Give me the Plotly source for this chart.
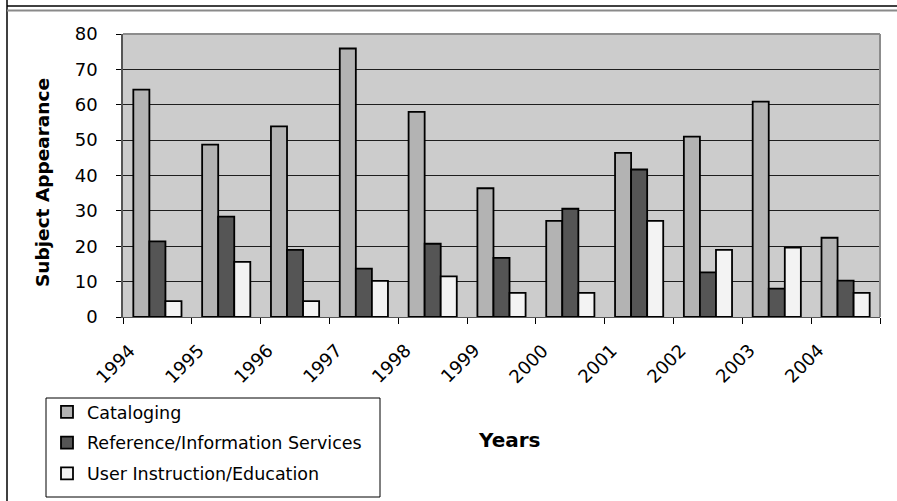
import plotly.graph_objects as go

years = ["1994", "1995", "1996", "1997", "1998", "1999", "2000", "2001", "2002", "2003", "2004"]
cataloging = [64.3, 48.7, 53.9, 75.9, 58.0, 36.4, 27.2, 46.4, 51.0, 60.9, 22.4]
reference = [21.4, 28.4, 19.0, 13.7, 20.7, 16.7, 30.6, 41.7, 12.6, 8.0, 10.3]
instruction = [4.5, 15.6, 4.5, 10.2, 11.5, 6.8, 6.8, 27.2, 19.0, 19.6, 6.8]
series_names = ["Cataloging", "Reference/Information Services", "User Instruction/Education"]
series_colors = ["#b3b3b3", "#555555", "#f3f3f3"]

W, H = 897, 501
L, R, T, B = 123, 17, 34, 184
PW, PH = W - L - R, H - T - B
FONT = "DejaVu Sans"


def px(x):
    return (x - L) / PW


def py(y):
    return (H - B - y) / PH


fig = go.Figure()
for name, vals, col in zip(series_names, [cataloging, reference, instruction], series_colors):
    fig.add_trace(go.Bar(
        x=years, y=vals, name=name, legendgroup=name,
        marker=dict(color=col, line=dict(color="#000000", width=1.8)),
    ))

annotations = []
for i, yr in enumerate(years):
    annotations.append(dict(
        x=i, y=0, xref="x", yref="y", text=yr, showarrow=False,
        textangle=-45, xanchor="center", yanchor="middle",
        xshift=-42, yshift=-46, font=dict(family=FONT, size=18, color="#000"),
    ))
annotations.append(dict(
    x=px(42), y=py(183), xref="paper", yref="paper", text="<b>Subject Appearance</b>",
    showarrow=False, textangle=-90, xanchor="center", yanchor="middle",
    font=dict(family=FONT, size=18.5, color="#000"),
))
annotations.append(dict(
    x=px(509), y=py(440), xref="paper", yref="paper", text="<b>Years</b>",
    showarrow=False, xanchor="center", yanchor="middle",
    font=dict(family=FONT, size=20, color="#000"),
))

shapes = [
    dict(type="line", xref="paper", yref="paper", x0=0, x1=1, y0=1, y1=1,
         line=dict(color="#8c8c8c", width=2), layer="above"),
    dict(type="line", xref="paper", yref="paper", x0=1, x1=1, y0=0, y1=1,
         line=dict(color="#8c8c8c", width=2), layer="above"),
    dict(type="line", xref="paper", yref="paper", x0=px(7), x1=px(7), y0=py(0), y1=py(501),
         line=dict(color="#000", width=1.5)),
    dict(type="line", xref="paper", yref="paper", x0=px(7), x1=px(897), y0=py(6), y1=py(6),
         line=dict(color="#000", width=1.5)),
    dict(type="line", xref="paper", yref="paper", x0=px(7), x1=px(897), y0=py(10.5), y1=py(10.5),
         line=dict(color="#8a8a8a", width=2)),
    dict(type="rect", xref="paper", yref="paper", x0=px(46), x1=px(380), y0=py(497), y1=py(398),
         line=dict(color="#000", width=1), fillcolor="rgba(0,0,0,0)"),
]

fig.update_layout(
    width=W, height=H,
    margin=dict(l=L, r=R, t=T, b=B, pad=0, autoexpand=False),
    paper_bgcolor="#ffffff", plot_bgcolor="#cccccc",
    barmode="group", bargap=0.30, bargroupgap=0,
    font=dict(family=FONT, size=18, color="#000"),
    showlegend=True,
    legend=dict(
        x=px(47), y=py(394), xanchor="left", yanchor="top",
        bgcolor="rgba(0,0,0,0)", borderwidth=0,
        font=dict(family=FONT, size=17.5, color="#000"),
        tracegroupgap=5, traceorder="grouped",
    ),
    annotations=annotations,
    shapes=shapes,
)
fig.update_xaxes(
    type="category", range=[-0.5, len(years) - 0.5], autorange=False,
    showticklabels=False, ticks="outside", tickson="boundaries",
    ticklen=6, tickcolor="#000", tickwidth=1,
    showline=True, linecolor="#555", linewidth=1, showgrid=False, zeroline=False,
)
fig.update_yaxes(
    range=[0, 80], autorange=False, dtick=10, tick0=0, ticks="outside", ticklen=5,
    tickcolor="#000", tickwidth=1,
    ticklabelstandoff=15, tickfont=dict(family=FONT, size=18, color="#000"),
    showline=True, linecolor="#555", linewidth=1.5,
    showgrid=True, gridcolor="#1e1e1e", gridwidth=1, zeroline=False,
)

fig.write_html("out.html")
